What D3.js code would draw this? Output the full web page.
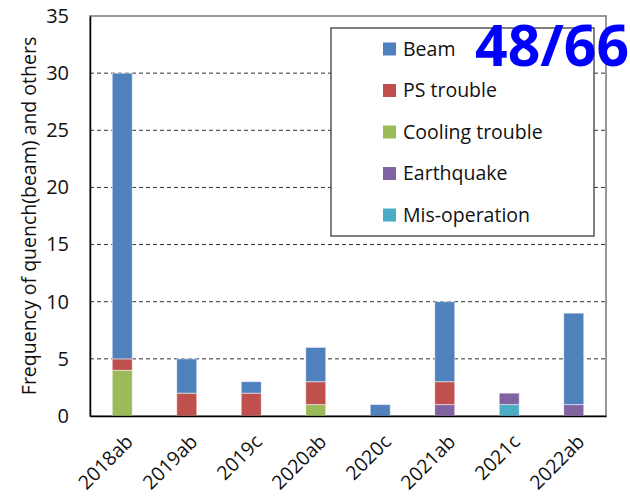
<!DOCTYPE html>
<html>
<head>
<meta charset="utf-8">
<script src="https://cdn.jsdelivr.net/npm/d3@7"></script>
<style>
  body { margin: 0; background: #fff; }
  text { font-family: "Open Sans", "Noto Sans", sans-serif; }
</style>
</head>
<body>
<div id="vis"></div>
<script>
// chart size
var width = 630;
var height = 501;

// data
var runs = ["2018ab", "2019ab", "2019c", "2020ab", "2020c", "2021ab", "2021c", "2022ab"];
var beam        = [25, 3, 1, 3, 1, 7, 0, 8];
var psTrouble   = [1, 2, 2, 2, 0, 2, 0, 0];
var cooling     = [4, 0, 0, 1, 0, 0, 0, 0];
var earthquake  = [0, 0, 0, 0, 0, 1, 1, 1];
var misOp       = [0, 0, 0, 0, 0, 0, 1, 0];
var yTicks = [0, 5, 10, 15, 20, 25, 30, 35];

// legend order (top to bottom), stacked bottom-up in reverse
var seriesNames = ["Beam", "PS trouble", "Cooling trouble", "Earthquake", "Mis-operation"];
var seriesValues = [beam, psTrouble, cooling, earthquake, misOp];
var colors = ["#4F81BD", "#C0504D", "#9BBB59", "#8064A2", "#4BACC6"];

var margin = {top: 16, right: 24, bottom: 85, left: 90};

var svg = d3.select("#vis").append("svg")
  .attr("width", width)
  .attr("height", height);

var g = svg.append("g")
  .attr("transform", "translate(" + margin.left + "," + margin.top + ")");

var w = width - margin.left - margin.right;
var h = height - margin.top - margin.bottom;

var x = d3.scaleBand().domain(runs).range([0, w]).paddingInner(0.69).paddingOuter(0.345);
var y = d3.scaleLinear().domain([0, 35]).range([h, 0]);

// build table for the stack
var table = runs.map(function(r, i) {
  var row = {run: r};
  seriesNames.forEach(function(s, j) { row[s] = seriesValues[j][i]; });
  return row;
});

var stackKeys = seriesNames.slice().reverse();
var stacked = d3.stack().keys(stackKeys)(table);

// grid lines
g.selectAll(".grid")
  .data(yTicks.filter(function(t) { return t > 0 && t < 35; }))
  .enter().append("line")
  .attr("x1", 0).attr("x2", w)
  .attr("y1", d => y(d)).attr("y2", d => y(d))
  .attr("stroke", "#333")
  .attr("stroke-width", 1)
  .attr("stroke-dasharray", "4,3");

// plot frame (top and right)
g.append("rect")
  .attr("x", 0).attr("y", 0)
  .attr("width", w).attr("height", h)
  .attr("fill", "none")
  .attr("stroke", "#777")
  .attr("stroke-width", 1.5);

// bars
g.selectAll(".layer")
  .data(stacked)
  .enter().append("g")
  .attr("fill", function(d) { return colors[seriesNames.indexOf(d.key)]; })
  .selectAll("rect")
  .data(d => d.filter(p => p[1] - p[0] > 0))
  .enter().append("rect")
  .attr("x", d => x(d.data.run))
  .attr("width", x.bandwidth())
  .attr("y", d => y(d[1]))
  .attr("height", d => y(d[0]) - y(d[1]))
  .attr("stroke", "rgba(255,255,255,0.5)")
  .attr("stroke-width", 1);

// axes
var yAxis = g.append("g")
  .call(d3.axisLeft(y).tickValues(yTicks).tickSize(0).tickPadding(21));
yAxis.select(".domain").attr("stroke", "#000").attr("stroke-width", 1.5);
yAxis.selectAll("text").style("font-size", "20px").attr("fill", "#111");

var xAxis = g.append("g")
  .attr("transform", "translate(0," + h + ")")
  .call(d3.axisBottom(x).tickSize(0).tickPadding(0));
xAxis.select(".domain").attr("stroke", "#000").attr("stroke-width", 1.5);
xAxis.selectAll("text")
  .style("font-size", "19.5px")
  .attr("fill", "#111")
  .style("text-anchor", "end")
  .attr("dy", "0")
  .attr("transform", "translate(12,27) rotate(-45)");

// y label
svg.append("text")
  .attr("transform", "translate(36," + (margin.top + h / 2) + ") rotate(-90)")
  .attr("text-anchor", "middle")
  .style("font-size", "19.5px")
  .attr("fill", "#111")
  .text("Frequency of quench(beam) and others");

// legend
var legend = svg.append("g").attr("transform", "translate(331,28)");
legend.append("rect")
  .attr("width", 263).attr("height", 208)
  .attr("fill", "#fff")
  .attr("stroke", "#555")
  .attr("stroke-width", 1.5);

var items = legend.selectAll(".item")
  .data(seriesNames)
  .enter().append("g")
  .attr("transform", (d, i) => "translate(52," + (21 + i * 41.5) + ")");
items.append("rect")
  .attr("x", 0).attr("y", -6.5)
  .attr("width", 13).attr("height", 13)
  .attr("fill", (d, i) => colors[i]);
items.append("text")
  .attr("x", 20).attr("dy", "0.35em")
  .style("font-size", "19.5px")
  .attr("fill", "#111")
  .text(d => d);

// big count
svg.append("text")
  .attr("x", 629).attr("y", 66)
  .attr("text-anchor", "end")
  .style("font-size", "57px")
  .style("font-weight", "bold")
  .attr("fill", "#0000FF")
  .text("48/66");
</script>
</body>
</html>
